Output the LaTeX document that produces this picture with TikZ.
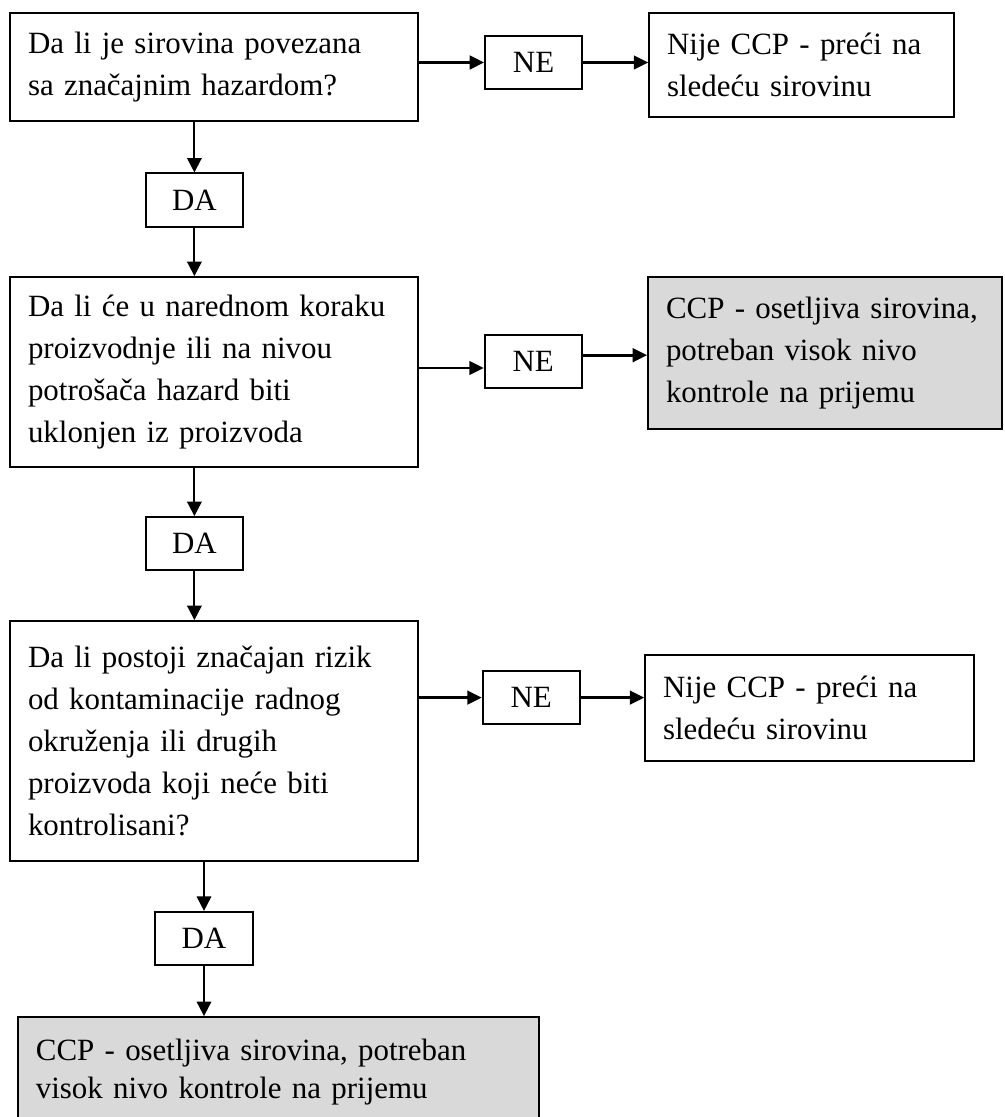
\documentclass[tikz,border=0pt]{standalone}
\usepackage{fontspec}
\setmainfont{Liberation Serif}
\usetikzlibrary{arrows.meta}

\tikzset{
    qbox/.style={draw, line width=1.3pt, align=left, inner xsep=0.45cm, inner ysep=0pt},
    ccpbox/.style={qbox, fill=gray!30},
    yesno/.style={draw, line width=1.3pt, minimum width=2.43cm, minimum height=1.33cm, inner sep=0pt},
    varr/.style={-{Triangle[length=3.6mm, width=3.6mm]}, line width=1.4pt},
    harr/.style={-{Triangle[length=3.6mm, width=3.4mm]}, line width=2pt}
}

\begin{document}
\begin{tikzpicture}[font=\fontsize{22pt}{29.9pt}\selectfont]
    \useasboundingbox (0, 0) rectangle (25.1, -27.925);

    % pitanja (lijevo)
    \node[qbox, text width=9.3cm, minimum height=2.7cm] (q1) at (5.35, -1.675)
        {Da li je sirovina povezana\\sa značajnim hazardom?};
    \node[qbox, text width=9.3cm, minimum height=4.75cm] (q2) at (5.35, -9.3)
        {Da li će u narednom koraku\\proizvodnje ili na nivou\\potrošača hazard biti\\uklonjen iz proizvoda};
    \node[qbox, text width=9.3cm, minimum height=6cm] (q3) at (5.35, -18.525)
        {Da li postoji značajan rizik\\od kontaminacije radnog\\okruženja ili drugih\\proizvoda koji neće biti\\kontrolisani?};

    % DA / NE
    \node[yesno] (ne1) at (13.34, -1.5625) {NE};
    \node[yesno] (ne2) at (13.33, -9.04) {NE};
    \node[yesno] (ne3) at (13.28, -17.44) {NE};
    \node[yesno] (da1) at (4.86, -5.0) {DA};
    \node[yesno] (da2) at (4.86, -13.59) {DA};
    \node[yesno] (da3) at (5.1, -23.46) {DA};

    % ishodi (desno i dolje)
    \node[qbox, text width=6.725cm, minimum height=2.6cm] (r1) at (20.04, -1.625)
        {Nije CCP - preći na\\sledeću sirovinu};
    \node[ccpbox, text width=7.95cm, minimum height=3.8cm] (r2) at (20.625, -8.825)
        {CCP - osetljiva sirovina,\\potreban visok nivo\\kontrole na prijemu};
    \node[qbox, text width=7.325cm, minimum height=2.65cm] (r3) at (20.24, -17.7)
        {Nije CCP - preći na\\sledeću sirovinu};
    \node[ccpbox, text width=12.125cm, minimum height=2.75cm,
          font=\fontsize{22pt}{27pt}\selectfont] (r4) at (6.96, -26.8)
        {CCP - osetljiva sirovina, potreban\\visok nivo kontrole na prijemu};

    % ulaz/izlaz kod drugog NE
    \coordinate (ne2in) at ([yshift=-0.16cm]ne2.west);
    \coordinate (ne2out) at ([yshift=0.16cm]ne2.east);

    % strelice NE
    \draw[harr] (q1.east |- ne1) -- (ne1.west);
    \draw[harr] (ne1.east) -- (r1.west |- ne1);
    \draw[harr] (q2.east |- ne2in) -- (ne2in);
    \draw[harr] (ne2out) -- (r2.west |- ne2out);
    \draw[harr] (q3.east |- ne3) -- (ne3.west);
    \draw[harr] (ne3.east) -- (r3.west |- ne3);

    % strelice DA
    \draw[varr] (q1.south -| da1) -- (da1.north);
    \draw[varr] (da1.south) -- (q2.north -| da1);
    \draw[varr] (q2.south -| da2) -- (da2.north);
    \draw[varr] (da2.south) -- (q3.north -| da2);
    \draw[varr] (q3.south -| da3) -- (da3.north);
    \draw[varr] (da3.south) -- (r4.north -| da3);
\end{tikzpicture}
\end{document}
